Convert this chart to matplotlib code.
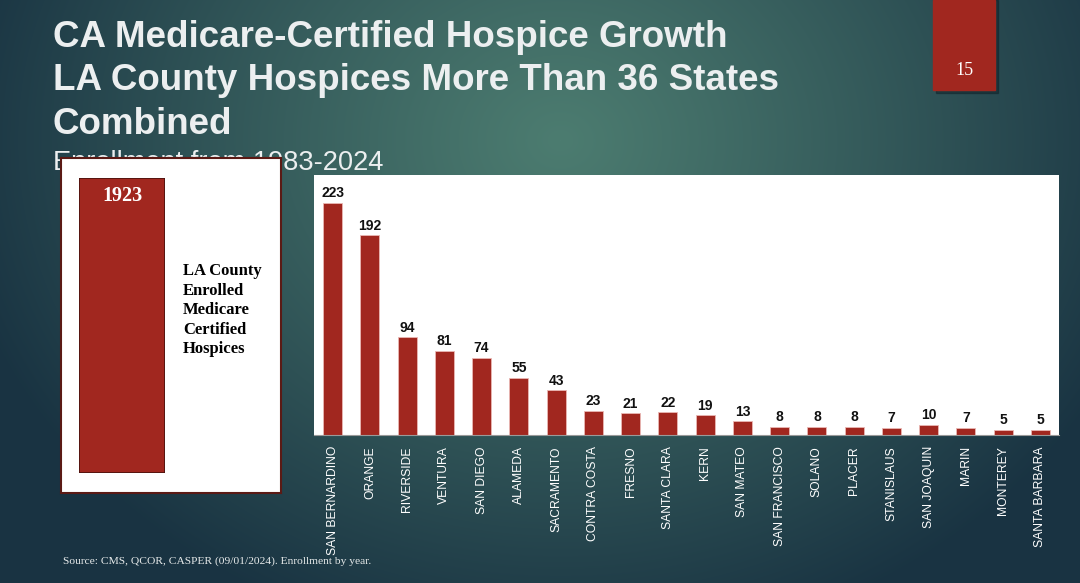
import numpy as np
import matplotlib
matplotlib.use("Agg")
import matplotlib.pyplot as plt
from matplotlib.patches import Rectangle

# data
counties = ["SAN BERNARDINO", "ORANGE", "RIVERSIDE", "VENTURA", "SAN DIEGO",
            "ALAMEDA", "SACRAMENTO", "CONTRA COSTA", "FRESNO", "SANTA CLARA",
            "KERN", "SAN MATEO", "SAN FRANCISCO", "SOLANO", "PLACER",
            "STANISLAUS", "SAN JOAQUIN", "MARIN", "MONTEREY", "SANTA BARBARA"]
hospices = [223, 192, 94, 81, 74, 55, 43, 23, 21, 22,
            19, 13, 8, 8, 8, 7, 10, 7, 5, 5]
la_county = 1923
title_lines = ["CA Medicare-Certified Hospice Growth",
               "LA County Hospices More Than 36 States",
               "Combined"]
subtitle = "Enrollment from 1983-2024"
la_label = "LA County\nEnrolled\nMedicare\nCertified\nHospices"
source = "Source: CMS, QCOR, CASPER (09/01/2024). Enrollment by year."
page_no = "15"

W, H = 1080, 583
RED = "#a1271f"


def px(x0, y0, x1, y1):
    # pixel box (top-left origin) -> figure rect
    return [x0 / W, 1 - y1 / H, (x1 - x0) / W, (y1 - y0) / H]


fig = plt.figure(figsize=(W / 100, H / 100), dpi=100)

# slide background gradient
bg = fig.add_axes([0, 0, 1, 1])
yy, xx = np.mgrid[0:H, 0:W]
d = np.sqrt(((xx - 560) / 620.0) ** 2 + ((yy - 140) / 520.0) ** 2)
d = np.clip(d, 0, 1) ** 1.1
light = np.array([0x4c, 0x7c, 0x70]) / 255
dark = np.array([0x19, 0x33, 0x42]) / 255
img = light[None, None, :] * (1 - d[..., None]) + dark[None, None, :] * d[..., None]
bg.imshow(img, extent=[0, W, H, 0], aspect="auto", zorder=0)
bg.set_xlim(0, W)
bg.set_ylim(H, 0)
bg.axis("off")

# titles
for i, line in enumerate(title_lines):
    bg.text(53, 47 + i * 43.5, line, color="#eceff0", fontsize=26.5,
            fontweight="bold", family="Liberation Sans", va="baseline", ha="left")
bg.text(53, 170, subtitle, color="#eceff0", fontsize=19.6,
        family="Liberation Sans", va="baseline", ha="left")

# page number tab
bg.add_patch(Rectangle((936, 0), 62, 93, color="#0d1d24", alpha=0.45, zorder=2))
bg.add_patch(Rectangle((933, 0), 62, 90, color=RED, zorder=3))
bg.text(964, 75, page_no, color="white", fontsize=13, family="Liberation Serif",
        ha="center", va="baseline", zorder=4)

bg.text(63, 564, source, color="#e6eaea", fontsize=8.25, family="Liberation Serif",
        ha="left", va="baseline")

# left white box with LA County bar
box = fig.add_axes(px(61, 158, 281, 493))
box.set_facecolor("white")
box.set_xticks([])
box.set_yticks([])
for s in box.spines.values():
    s.set_color("#5b1a15")
    s.set_linewidth(1.5)

la_ax = fig.add_axes(px(79, 178, 165, 473))
la_ax.bar([0], [la_county], width=1, color=RED, edgecolor="#4a120e", linewidth=1.2)
la_ax.set_xlim(-0.5, 0.5)
la_ax.set_ylim(0, la_county)
la_ax.axis("off")
la_ax.text(0.5, 0.94, str(la_county), transform=la_ax.transAxes, color="white",
           fontsize=14.5, fontweight="bold", family="Liberation Serif",
           ha="center", va="center")

fig.text(183 / W, 1 - 263 / H, la_label, color="black", fontsize=12,
         fontweight="bold", family="Liberation Serif", ha="left", va="top",
         linespacing=1.3)

# county bar chart
ax = fig.add_axes(px(314, 175, 1059, 435))
ax.set_facecolor("white")
x = np.arange(len(counties))
ax.bar(x, hospices, width=0.51, color=RED, edgecolor="#eab8b4", linewidth=0.6)
for xi, v in zip(x, hospices):
    ax.text(xi, v + 2.5, str(v), ha="center", va="bottom", fontsize=10,
            fontweight="bold", family="Liberation Sans", color="#111111")
ax.set_xlim(-0.5, 19.5)
ax.set_ylim(0, 250)
ax.set_yticks([])
ax.set_xticks(x)
ax.set_xticklabels(counties, rotation=90, color="white", fontsize=8.7,
                   family="Liberation Sans")
ax.tick_params(axis="x", length=0, pad=8)
for s in ["top", "left", "right"]:
    ax.spines[s].set_visible(False)
ax.spines["bottom"].set_color("#9a9a9a")
ax.spines["bottom"].set_linewidth(0.8)

fig.savefig("out.png", dpi=100)
